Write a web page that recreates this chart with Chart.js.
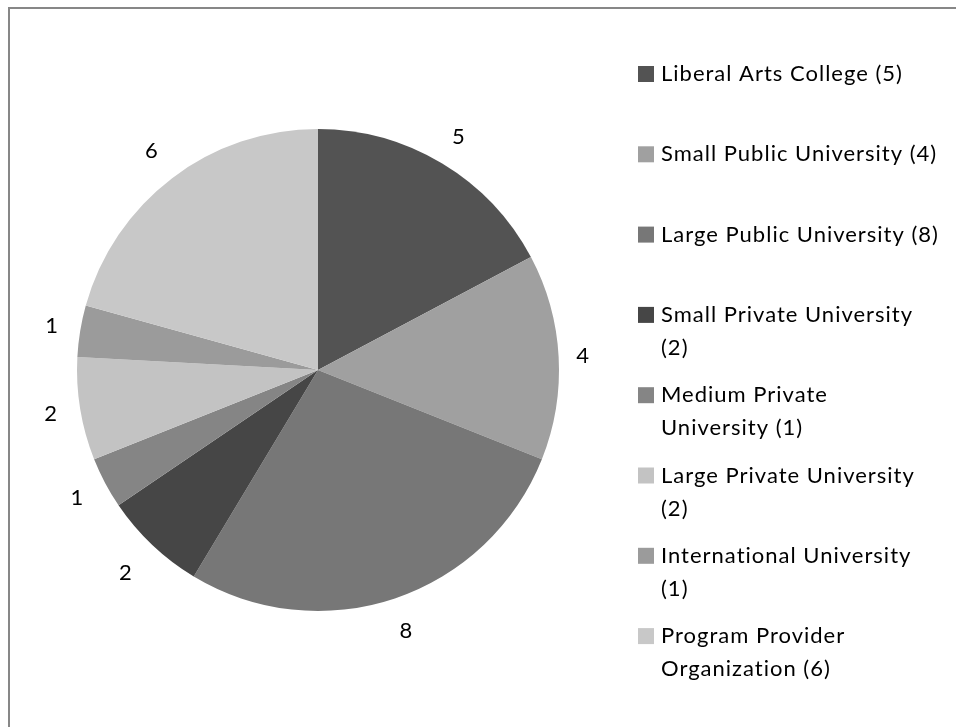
<!DOCTYPE html>
<html>
<head>
<meta charset="utf-8">
<script src="https://cdn.jsdelivr.net/npm/chart.js@4/dist/chart.umd.min.js"></script>
<style>
  html, body { margin: 0; padding: 0; background: #fff; overflow: hidden; }
  #frame { position: absolute; left: 8px; top: 7px; width: 1200px; height: 1000px;
           border-left: 2px solid #878787; border-top: 2px solid #878787; }
  #wrap { position: absolute; left: 0; top: 0; width: 956px; height: 727px; }
</style>
</head>
<body>
<div id="frame"></div>
<div id="wrap"><canvas id="c" width="956" height="727"></canvas></div>
<script>
// Institution types and how many of each responded
const categories = [
  'Liberal Arts College',
  'Small Public University',
  'Large Public University',
  'Small Private University',
  'Medium Private University',
  'Large Private University',
  'International University',
  'Program Provider Organization'
];
const counts = [5, 4, 8, 2, 1, 2, 1, 6];
// Legend text, wrapped as shown in the legend column
const legendLines = [
  ['Liberal Arts College (5)'],
  ['Small Public University (4)'],
  ['Large Public University (8)'],
  ['Small Private University', '(2)'],
  ['Medium Private', 'University (1)'],
  ['Large Private University', '(2)'],
  ['International University', '(1)'],
  ['Program Provider', 'Organization (6)']
];
const sliceColors = ['#535353', '#a0a0a0', '#777777', '#464646', '#858585', '#c3c3c3', '#9b9b9b', '#c8c8c8'];

const FONT = '22px Lato';
const SPACING = '1px';

// Value labels just outside each slice; gap from the rim per slice
const valueLabels = {
  id: 'valueLabels',
  afterDatasetsDraw(chart, args, opts) {
    const ctx = chart.ctx;
    const meta = chart.getDatasetMeta(0);
    ctx.save();
    ctx.font = FONT;
    ctx.fillStyle = '#000';
    ctx.textAlign = 'center';
    ctx.textBaseline = 'middle';
    meta.data.forEach((arc, i) => {
      const p = arc.getProps(['x', 'y', 'startAngle', 'endAngle', 'outerRadius'], true);
      const mid = (p.startAngle + p.endAngle) / 2;
      const r = p.outerRadius + opts.gaps[i];
      ctx.fillText(String(chart.data.datasets[0].data[i]), p.x + Math.cos(mid) * r, p.y + Math.sin(mid) * r);
    });
    ctx.restore();
  }
};

// Legend column on the right with wrapped entries
const sideLegend = {
  id: 'sideLegend',
  afterDraw(chart) {
    const ctx = chart.ctx;
    const x0 = 638, textX = 661, top = 74, step = 80.3, lineH = 33, box = 16;
    ctx.save();
    ctx.font = FONT;
    ctx.letterSpacing = SPACING;
    ctx.textBaseline = 'middle';
    ctx.textAlign = 'left';
    chart.data.labels.forEach((lab, i) => {
      const y = top + i * step;
      ctx.fillStyle = chart.data.datasets[0].backgroundColor[i];
      ctx.fillRect(x0, y - box / 2, box, box);
      ctx.fillStyle = '#000';
      legendLines[i].forEach((t, k) => ctx.fillText(t, textX, y + k * lineH));
    });
    ctx.restore();
  }
};

new Chart(document.getElementById('c'), {
  type: 'pie',
  data: {
    labels: categories,
    datasets: [{
      data: counts,
      backgroundColor: sliceColors,
      borderWidth: 0,
      hoverOffset: 0
    }]
  },
  options: {
    responsive: false,
    animation: false,
    events: [],
    layout: { padding: { left: 77, right: 397, top: 129, bottom: 116 } },
    plugins: {
      legend: { display: false },
      tooltip: { enabled: false },
      valueLabels: { gaps: [31.5, 24, 34, 39, 32, 30, 29, 34.5] }
    }
  },
  plugins: [valueLabels, sideLegend]
});
</script>
</body>
</html>
